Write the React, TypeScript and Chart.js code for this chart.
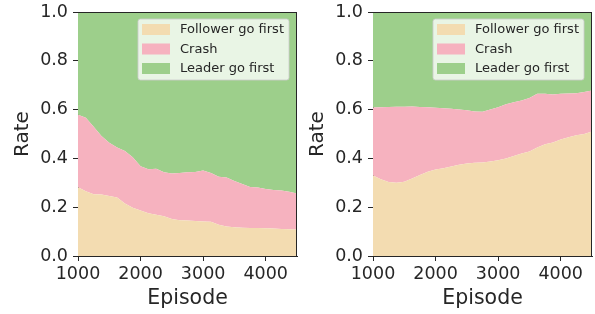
import React, { useEffect, useRef } from "react";
import { Chart, registerables } from "chart.js";

Chart.register(...registerables);

const episodes = [
  1000, 1125, 1250, 1375, 1500, 1625, 1750, 1875, 2000, 2125, 2250, 2375, 2500, 2625, 2750,
  2875, 3000, 3125, 3250, 3375, 3500, 3625, 3750, 3875, 4000, 4125, 4250, 4375, 4500,
];

// Left panel
const leftFollower = [
  0.282, 0.265, 0.253, 0.252, 0.246, 0.24, 0.215, 0.198, 0.186, 0.175, 0.169, 0.163, 0.152, 0.147,
  0.145, 0.143, 0.141, 0.14, 0.128, 0.121, 0.118, 0.116, 0.115, 0.115, 0.114, 0.113, 0.111, 0.11,
  0.109,
];
const leftCrash = [
  0.297, 0.302, 0.277, 0.24, 0.218, 0.205, 0.215, 0.207, 0.182, 0.181, 0.189, 0.18, 0.186, 0.193,
  0.198, 0.201, 0.209, 0.2, 0.197, 0.201, 0.189, 0.179, 0.168, 0.166, 0.161, 0.158, 0.157, 0.153,
  0.147,
];

// Right panel
const rightFollower = [
  0.33, 0.315, 0.303, 0.3, 0.304, 0.318, 0.332, 0.345, 0.355, 0.36, 0.367, 0.374, 0.379, 0.382,
  0.383, 0.387, 0.392, 0.4, 0.41, 0.42, 0.428, 0.445, 0.458, 0.465, 0.477, 0.487, 0.495, 0.5, 0.51,
];
const rightCrash = [
  0.279, 0.295, 0.308, 0.312, 0.308, 0.295, 0.279, 0.265, 0.253, 0.246, 0.236, 0.226, 0.218, 0.21,
  0.208, 0.213, 0.218, 0.222, 0.22, 0.217, 0.22, 0.22, 0.207, 0.197, 0.188, 0.179, 0.172, 0.172,
  0.168,
];

const seriesLabels = ["Follower go first", "Crash", "Leader go first"];
const seriesColors = ["#F3DCB1", "#F6B2BF", "#9DCF8B"];
const xTicks = [1000, 2000, 3000, 4000];
const yTicks = [0, 0.2, 0.4, 0.6, 0.8, 1.0];

const FONT = "'DejaVu Sans', sans-serif";
const INK = "#262626";

function remainderOf(a: number[], b: number[]) {
  return a.map((v, i) => Math.max(0, 1 - v - b[i]));
}

const framePlugin = {
  id: "frameAndLegend",
  afterDatasetsDraw(chart: any) {
    const { ctx, chartArea } = chart;
    const a = chartArea;
    ctx.save();
    // top and right spines
    ctx.strokeStyle = INK;
    ctx.lineWidth = 1;
    ctx.beginPath();
    ctx.moveTo(a.left, a.top + 0.5);
    ctx.lineTo(a.right, a.top + 0.5);
    ctx.moveTo(a.right - 0.5, a.top);
    ctx.lineTo(a.right - 0.5, a.bottom);
    ctx.stroke();

    // legend box
    const bw = 151;
    const bh = 61;
    const bx = a.right - 8 - bw;
    const by = a.top + 7;
    ctx.beginPath();
    const r = 2.5;
    ctx.moveTo(bx + r, by);
    ctx.lineTo(bx + bw - r, by);
    ctx.quadraticCurveTo(bx + bw, by, bx + bw, by + r);
    ctx.lineTo(bx + bw, by + bh - r);
    ctx.quadraticCurveTo(bx + bw, by + bh, bx + bw - r, by + bh);
    ctx.lineTo(bx + r, by + bh);
    ctx.quadraticCurveTo(bx, by + bh, bx, by + bh - r);
    ctx.lineTo(bx, by + r);
    ctx.quadraticCurveTo(bx, by, bx + r, by);
    ctx.closePath();
    ctx.fillStyle = "rgba(255,255,255,0.78)";
    ctx.fill();
    ctx.strokeStyle = "rgba(204,204,204,0.85)";
    ctx.stroke();

    const datasets = chart.data.datasets;
    ctx.font = `13px ${FONT}`;
    ctx.textBaseline = "middle";
    ctx.textAlign = "left";
    datasets.forEach((ds: any, i: number) => {
      const cy = by + 10.5 + i * 19.5;
      ctx.fillStyle = ds.backgroundColor;
      ctx.fillRect(bx + 4, cy - 5.5, 28, 11);
      ctx.fillStyle = INK;
      ctx.fillText(ds.label, bx + 42, cy + 0.5);
    });
    ctx.restore();
  },
};

function Panel({ follower, crash, left }: { follower: number[]; crash: number[]; left: number }) {
  const ref = useRef<HTMLCanvasElement | null>(null);
  useEffect(() => {
    if (!ref.current) return;
    const leader = remainderOf(follower, crash);
    const series = [follower, crash, leader];
    const chart = new Chart(ref.current, {
      type: "line",
      data: {
        datasets: series.map((vals, k) => ({
          label: seriesLabels[k],
          data: episodes.map((x, i) => ({ x, y: vals[i] })),
          fill: k === 0 ? "origin" : "-1",
          backgroundColor: seriesColors[k],
          borderColor: "rgba(0,0,0,0)",
          borderWidth: 0,
          pointRadius: 0,
          tension: 0,
        })),
      },
      options: {
        animation: false,
        responsive: false,
        maintainAspectRatio: false,
        layout: { padding: { top: 12, right: 3, left: 0, bottom: 0 } },
        plugins: { legend: { display: false }, tooltip: { enabled: false } },
        scales: {
          x: {
            type: "linear",
            min: 1000,
            max: 4500,
            afterBuildTicks: (s: any) => {
              s.ticks = xTicks.map((v) => ({ value: v }));
            },
            afterFit: (s: any) => {
              s.height = 58;
              s.paddingLeft = 0;
              s.paddingRight = 0;
            },
            grid: { drawOnChartArea: false, tickLength: 5, tickColor: INK, color: INK },
            border: { display: true, color: INK, width: 1 },
            ticks: {
              color: INK,
              font: { family: FONT, size: 17.5 },
              padding: 3,
              maxRotation: 0,
              autoSkip: false,
              callback: (v: any) => String(v),
            },
            title: {
              display: true,
              text: "Episode",
              color: INK,
              font: { family: FONT, size: 20.5 },
              padding: { top: 0, bottom: 3 },
            },
          },
          y: {
            stacked: true,
            min: 0,
            max: 1,
            afterBuildTicks: (s: any) => {
              s.ticks = yTicks.map((v) => ({ value: v }));
            },
            afterFit: (s: any) => {
              s.width = 78;
              s.paddingTop = 0;
              s.paddingBottom = 0;
            },
            grid: { drawOnChartArea: false, tickLength: 5, tickColor: INK, color: INK },
            border: { display: true, color: INK, width: 1 },
            ticks: {
              color: INK,
              font: { family: FONT, size: 17.5 },
              padding: 5,
              callback: (v: any) => Number(v).toFixed(1),
            },
            title: {
              display: true,
              text: "Rate",
              color: INK,
              font: { family: FONT, size: 20 },
              padding: { top: 11, bottom: 0 },
            },
          },
        },
      },
      plugins: [framePlugin],
    } as any);
    return () => chart.destroy();
  }, [follower, crash]);
  return (
    <canvas
      ref={ref}
      width={300}
      height={314}
      style={{ position: "absolute", left, top: 0, width: 300, height: 314 }}
    />
  );
}

export default function App() {
  return (
    <div
      style={{
        position: "fixed",
        left: 0,
        top: 0,
        width: 595,
        height: 314,
        background: "#ffffff",
        overflow: "hidden",
      }}
    >
      <Panel follower={leftFollower} crash={leftCrash} left={0} />
      <Panel follower={rightFollower} crash={rightCrash} left={295} />
    </div>
  );
}
